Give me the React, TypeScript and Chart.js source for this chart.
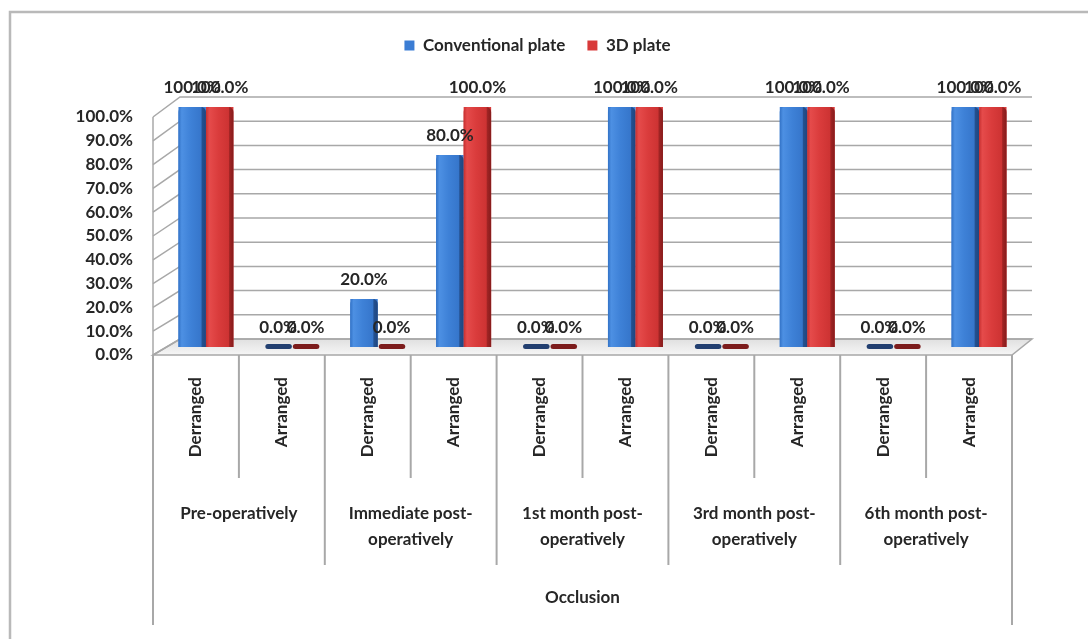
import React, { useEffect, useRef } from 'react';
import { Chart, registerables } from 'chart.js';

Chart.register(...registerables);

// ---- data ----
const occlusionStates = [
  'Derranged', 'Arranged',
  'Derranged', 'Arranged',
  'Derranged', 'Arranged',
  'Derranged', 'Arranged',
  'Derranged', 'Arranged',
];
const periodLabels = [
  ['Pre-operatively'],
  ['Immediate post-', 'operatively'],
  ['1st month post-', 'operatively'],
  ['3rd month post-', 'operatively'],
  ['6th month post-', 'operatively'],
];
const conventionalPlate = [100, 0, 20, 80, 0, 100, 0, 100, 0, 100];
const plate3D = [100, 0, 0, 100, 0, 100, 0, 100, 0, 100];
const percentTicks = [0, 10, 20, 30, 40, 50, 60, 70, 80, 90, 100];
const seriesNames = ['Conventional plate', '3D plate'];
const axisTitle = 'Occlusion';

// ---- look ----
const FONT_FAMILY = 'Lato, "Open Sans", "DejaVu Sans", sans-serif';
const FONT_SIZE = 17;
const TEXT_COLOR = '#262626';
const SERIES_COLORS = ['#3b7dd4', '#d83a3a'];
const FLAT_COLORS = ['#223f70', '#7c1c1c'];
const FACE_STOPS = [
  ['#3272c6', '#4d90e3', '#3e81d7', '#3676cb', '#24508f', '#1f4680'],
  ['#c62f2f', '#e54b4b', '#da3c3c', '#cd3333', '#a02424', '#861c1c'],
];
const LINE_COLOR = '#a8a8a8';

// ---- layout ----
const WIDTH = 1088;
const HEIGHT = 639;
const PAD = { top: 15, left: 63, right: 76, bottom: 0 };
const LEGEND_PAD = 22;
const PLOT_LEFT = 153;
const PLOT_TOP = PAD.top + FONT_SIZE + LEGEND_PAD + 10;
const PLOT_BOTTOM = 355;
const SUB_AXIS_HEIGHT = 135;
const GROUP_AXIS_HEIGHT = HEIGHT - PAD.bottom - PLOT_BOTTOM - SUB_AXIS_HEIGHT;
const BACK_LEFT = 180;
const BACK_RIGHT = 1032;
const BAR_SHIFT = 10;
const LABEL_GAP = 19;
const SUB_LINE_END = 478;
const GROUP_LINE_END = 565;
const OUTER_LINE_END = 625;

// pixel rows of 0% and 100% on the three depth planes
const BAR_ZERO = 347, BAR_FULL = 107;
const WALL_ZERO = 339, WALL_FULL = 97;
const TICK_ZERO = 355, TICK_FULL = 117;

const rangeFor = (zeroPx: number, fullPx: number) => {
  const k = (zeroPx - fullPx) / 100;
  return { min: -(PLOT_BOTTOM - zeroPx) / k, max: (zeroPx - PLOT_TOP) / k };
};
const pct = (v: number | string) => `${Number(v).toFixed(1)}%`;
const font = (extra: Record<string, unknown> = {}) => ({
  family: FONT_FAMILY,
  size: FONT_SIZE,
  weight: 'bold',
  ...extra,
});

const sceneryPlugin = {
  id: 'scenery',
  beforeDraw(chart: any) {
    const { ctx } = chart;
    ctx.save();
    ctx.fillStyle = '#ffffff';
    ctx.fillRect(0, 0, chart.width, chart.height);
    ctx.strokeStyle = '#b9b9b9';
    ctx.lineWidth = 2.5;
    ctx.strokeRect(10, 12, chart.width + 20, chart.height + 20);
    ctx.restore();
  },
  beforeDatasetsDraw(chart: any) {
    const { ctx, scales } = chart;
    const wall = scales.yWall;
    const tick = scales.yTick;
    const x = scales.x;
    ctx.save();
    ctx.strokeStyle = LINE_COLOR;
    ctx.lineWidth = 1.5;

    // floor
    const wz = wall.getPixelForValue(0);
    ctx.beginPath();
    ctx.moveTo(x.left, PLOT_BOTTOM);
    ctx.lineTo(x.right, PLOT_BOTTOM);
    ctx.lineTo(BACK_RIGHT, wz);
    ctx.lineTo(BACK_LEFT, wz);
    ctx.closePath();
    const fg = ctx.createLinearGradient(0, wz, 0, PLOT_BOTTOM);
    fg.addColorStop(0, '#e0e0e0');
    fg.addColorStop(1, '#f6f6f6');
    ctx.fillStyle = fg;
    ctx.fill();
    ctx.stroke();

    // side wall and back wall grid
    percentTicks.forEach((v) => {
      const yb = wall.getPixelForValue(v);
      const yf = tick.getPixelForValue(v);
      ctx.beginPath();
      ctx.moveTo(x.left, yf);
      ctx.lineTo(BACK_LEFT, yb);
      ctx.lineTo(BACK_RIGHT, yb);
      ctx.stroke();
    });

    // front edge of the value wall
    ctx.beginPath();
    ctx.moveTo(x.left, tick.getPixelForValue(100));
    ctx.lineTo(x.left, PLOT_BOTTOM);
    ctx.stroke();

    // category table separators
    const n = occlusionStates.length;
    ctx.lineWidth = 2;
    for (let i = 0; i <= n; i++) {
      const px =
        i === 0 ? x.left : i === n ? x.right : (x.getPixelForValue(i - 1) + x.getPixelForValue(i)) / 2;
      const end = i === 0 || i === n ? OUTER_LINE_END : i % 2 === 0 ? GROUP_LINE_END : SUB_LINE_END;
      ctx.beginPath();
      ctx.moveTo(px, PLOT_BOTTOM);
      ctx.lineTo(px, end);
      ctx.stroke();
    }
    ctx.restore();

    // columns stand in the middle of the floor depth
    ctx.save();
    ctx.translate(BAR_SHIFT, 0);
  },
  afterDatasetsDraw(chart: any) {
    const { ctx } = chart;
    chart.data.datasets.forEach((ds: any, di: number) => {
      const meta = chart.getDatasetMeta(di);
      meta.data.forEach((bar: any, i: number) => {
        const { x, y, base, width } = bar.getProps(['x', 'y', 'base', 'width'], true);
        const left = x - width / 2;
        if (ds.data[i] === 0) {
          ctx.fillStyle = FLAT_COLORS[di];
          ctx.beginPath();
          ctx.roundRect(left + 1, base - 3, width - 1, 5, 2.5);
          ctx.fill();
          return;
        }
        const stops = FACE_STOPS[di];
        const grad = ctx.createLinearGradient(left, 0, left + width, 0);
        grad.addColorStop(0, stops[0]);
        grad.addColorStop(0.12, stops[1]);
        grad.addColorStop(0.45, stops[2]);
        grad.addColorStop(0.82, stops[3]);
        grad.addColorStop(0.86, stops[4]);
        grad.addColorStop(1, stops[5]);
        ctx.fillStyle = grad;
        ctx.beginPath();
        ctx.roundRect(left, y, width, base - y, [5, 5, 0, 0]);
        ctx.fill();
      });
    });
    ctx.restore();

    // value labels
    ctx.save();
    ctx.font = `bold ${FONT_SIZE}px ${FONT_FAMILY}`;
    ctx.fillStyle = TEXT_COLOR;
    ctx.textAlign = 'center';
    ctx.textBaseline = 'middle';
    chart.data.datasets.forEach((ds: any, di: number) => {
      chart.getDatasetMeta(di).data.forEach((bar: any, i: number) => {
        ctx.fillText(pct(ds.data[i]), bar.x + BAR_SHIFT, bar.y - LABEL_GAP);
      });
    });
    ctx.restore();
  },
};

export default function App() {
  const canvasRef = useRef<HTMLCanvasElement | null>(null);

  useEffect(() => {
    const canvas = canvasRef.current;
    if (!canvas) return;
    const chart = new Chart(canvas, {
      type: 'bar',
      data: {
        labels: occlusionStates,
        datasets: [
          {
            label: seriesNames[0],
            data: conventionalPlate,
            backgroundColor: SERIES_COLORS[0],
            borderWidth: 0,
            categoryPercentage: 0.64,
            barPercentage: 1,
            xAxisID: 'x',
            yAxisID: 'y',
            clip: false,
          },
          {
            label: seriesNames[1],
            data: plate3D,
            backgroundColor: SERIES_COLORS[1],
            borderWidth: 0,
            categoryPercentage: 0.64,
            barPercentage: 1,
            xAxisID: 'x',
            yAxisID: 'y',
            clip: false,
          },
        ],
      },
      options: {
        responsive: false,
        animation: false,
        devicePixelRatio: 1,
        layout: { padding: PAD },
        plugins: {
          legend: {
            position: 'top',
            labels: {
              boxWidth: 10,
              boxHeight: 10,
              padding: LEGEND_PAD,
              color: TEXT_COLOR,
              font: font(),
            },
          },
          tooltip: { enabled: false },
        },
        scales: {
          x: {
            type: 'category',
            position: 'bottom',
            weight: 0,
            offset: true,
            grid: { display: false, drawTicks: false },
            border: { display: false },
            ticks: {
              autoSkip: false,
              minRotation: 90,
              maxRotation: 90,
              padding: 22,
              color: TEXT_COLOR,
              font: font(),
            },
            afterFit: (s: any) => {
              s.height = SUB_AXIS_HEIGHT;
            },
          },
          xg: {
            type: 'category',
            position: 'bottom',
            weight: 1,
            labels: periodLabels,
            offset: true,
            grid: { display: false, drawTicks: false },
            border: { display: false },
            ticks: {
              autoSkip: false,
              minRotation: 0,
              maxRotation: 0,
              padding: 10,
              color: TEXT_COLOR,
              font: font({ lineHeight: 1.55 }),
            },
            title: {
              display: true,
              text: axisTitle,
              color: TEXT_COLOR,
              font: font(),
              padding: { top: 0, bottom: 31 },
            },
            afterFit: (s: any) => {
              s.height = GROUP_AXIS_HEIGHT;
            },
          },
          y: {
            display: false,
            ...rangeFor(BAR_ZERO, BAR_FULL),
          },
          yWall: {
            display: false,
            ...rangeFor(WALL_ZERO, WALL_FULL),
          },
          yTick: {
            position: 'left',
            ...rangeFor(TICK_ZERO, TICK_FULL),
            grid: { display: false, drawTicks: false },
            border: { display: false },
            afterBuildTicks: (s: any) => {
              s.ticks = percentTicks.map((value) => ({ value }));
            },
            ticks: {
              padding: 20,
              color: TEXT_COLOR,
              font: font(),
              callback: (v: number | string) => pct(v),
            },
            afterFit: (s: any) => {
              s.width = PLOT_LEFT - PAD.left;
            },
          },
        },
      },
      plugins: [sceneryPlugin],
    } as any);
    return () => chart.destroy();
  }, []);

  return (
    <div style={{ position: 'absolute', left: 0, top: 0, width: WIDTH, height: HEIGHT, background: '#fff' }}>
      <canvas ref={canvasRef} width={WIDTH} height={HEIGHT} style={{ display: 'block' }} />
    </div>
  );
}
